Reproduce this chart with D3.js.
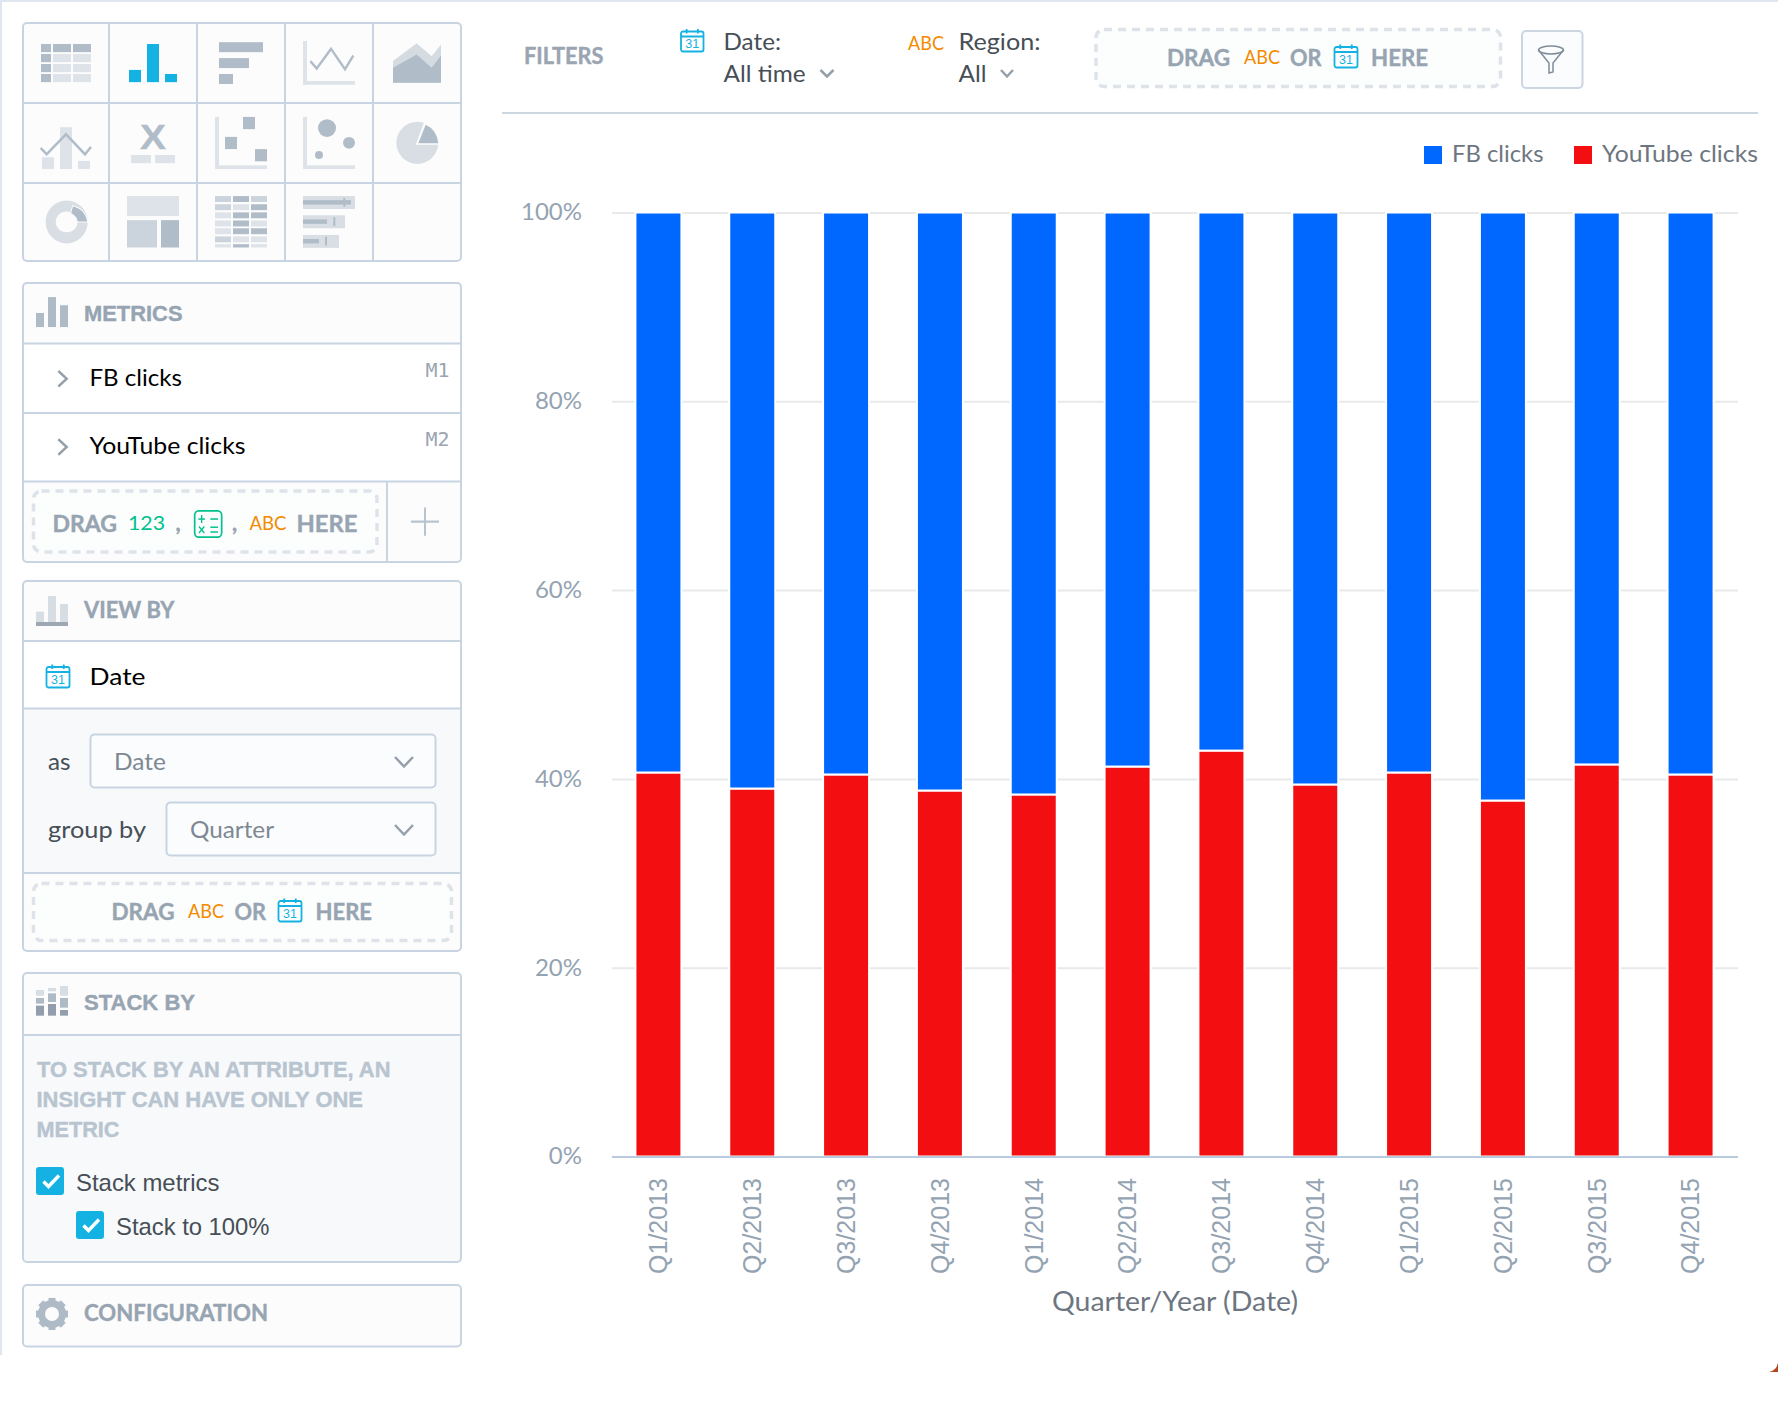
<!DOCTYPE html>
<html>
<head>
<meta charset="utf-8">
<title>FB vs YouTube clicks</title>
<script src="https://cdn.jsdelivr.net/npm/d3@7/dist/d3.min.js"></script>
<style>
  html, body { margin: 0; padding: 0; background: #fff; }
  svg { display: block; }
  text { font-family: Lato, sans-serif; }
</style>
</head>
<body>
<div id="chart"></div>
<script>
// values, share of clicks in % per quarter
const categories = ["Q1/2013","Q2/2013","Q3/2013","Q4/2013","Q1/2014","Q2/2014","Q3/2014","Q4/2014","Q1/2015","Q2/2015","Q3/2015","Q4/2015"];
const youtubeClicks = [40.68,38.98,40.47,38.77,38.35,41.31,43.0,39.41,40.68,37.71,41.53,40.47];
const fbClicks = [59.32,61.02,59.53,61.23,61.65,58.69,57.0,60.59,59.32,62.29,58.47,59.53];
const yTicks = [0,20,40,60,80,100];
const seriesNames = ["YouTube clicks","FB clicks"];
const legendNames = ["FB clicks","YouTube clicks"];
const seriesColors = {"FB clicks":"#0068ff","YouTube clicks":"#f30f11"};

const BLUE = "#14b2e2", ORANGE = "#f38b00", GREEN = "#00c18d";
const LINE = "#c8d4e1", DARK = "#b0bdc9", LIGHT = "#dde3e8", MID = "#cbd4dd";
const HEAD = "#97a4b1", BODY = "#464e56", SERIF_SANS = "Liberation Sans, Arial, sans-serif";

const svg = d3.select("#chart").append("svg")
    .attr("width", 1778).attr("height", 1402)
    .attr("viewBox", [0,0,1778,1402]);

// text helper, w stretches the text to the width measured in the picture
function label(parent, str, x, y, o = {}) {
    const t = parent.append("text")
        .attr("x", x).attr("y", y)
        .attr("font-size", o.size || 24)
        .attr("fill", o.fill || BODY)
        .text(str);
    if (o.weight) t.attr("font-weight", o.weight).attr("stroke", o.fill || BODY).attr("stroke-width", 0.4);
    if (o.family) t.style("font-family", o.family);
    if (o.w) t.attr("textLength", o.w).attr("lengthAdjust", "spacingAndGlyphs");
    return t;
}
function box(parent, x, y, w, h, fill) {
    return parent.append("rect").attr("x", x).attr("y", y).attr("width", w).attr("height", h).attr("fill", fill);
}
function hline(parent, x1, x2, y, color = LINE) {
    parent.append("line").attr("x1", x1).attr("x2", x2).attr("y1", y).attr("y2", y)
        .attr("stroke", color).attr("stroke-width", 2);
}
function poly(parent, pts, color, width) {
    return parent.append("path").attr("d", d3.line()(pts)).attr("fill", "none")
        .attr("stroke", color).attr("stroke-width", width);
}
function panel(parent, y1, y2) {
    box(parent, 23, y1, 438, y2 - y1, "#fcfcfd");
}
function panelBorder(parent, y1, y2) {
    parent.append("rect").attr("x", 23).attr("y", y1).attr("width", 438).attr("height", y2 - y1)
        .attr("rx", 4).attr("fill", "none").attr("stroke", LINE).attr("stroke-width", 2);
}
function dropzone(parent, x1, y1, x2, y2) {
    parent.append("rect").attr("x", x1).attr("y", y1).attr("width", x2 - x1).attr("height", y2 - y1)
        .attr("rx", 8).attr("fill", "#fcfdfd").attr("stroke", "#dde3e9")
        .attr("stroke-width", 3.5).attr("stroke-dasharray", "8 6");
}
function calIcon(parent, x, y, w, h) {
    const g = parent.append("g").attr("transform", `translate(${x},${y})`);
    g.append("rect").attr("x", 0).attr("y", 2).attr("width", w).attr("height", h - 2).attr("rx", 2)
        .attr("fill", "#fff").attr("stroke", BLUE).attr("stroke-width", 1.8);
    hline(g, 0, w, 7, BLUE);
    [0.25, 0.75].forEach(f => g.append("line").attr("x1", w * f).attr("x2", w * f).attr("y1", -0.5).attr("y2", 4)
        .attr("stroke", BLUE).attr("stroke-width", 1.8));
    label(g, "31", w / 2 - 7, h - 3.5, {size: 13, fill: BLUE, w: 14, family: SERIF_SANS});
}
function chevron(parent, x1, x2, y1, y2) {
    poly(parent, [[x1,y1],[(x1+x2)/2,y2],[x2,y1]], "#95a0ab", 2.5);
}
// group whose units are the ones of the 3x crops of the left column
function cropGroup() {
    return svg.append("g").attr("transform", `scale(${1/3},${1/2.703})`);
}

// page edges
box(svg, 0, 0, 1778, 2, "#dfe6ef");
box(svg, 0, 0, 2, 1355, "#dfe6ef");
svg.append("path").attr("d", "M1769,1372 Q1776,1371 1778,1363 L1778,1372 Z").attr("fill", "#b5451b");

// ---------- chart ----------
const y = d3.scaleLinear().domain([0,100]).range([1156.5,212.5]);
const x = d3.scaleBand().domain(categories).range([611.5,1737.5]).paddingInner(0.5098).paddingOuter(0.2549);

const stackRows = categories.map((c,i) => ({cat: c, "YouTube clicks": youtubeClicks[i], "FB clicks": fbClicks[i]}));
const series = d3.stack().keys(seriesNames)(stackRows);

const yAxis = svg.append("g").attr("transform", "translate(612,0)")
    .call(d3.axisLeft(y).tickValues(yTicks).tickFormat(d => d + "%").tickSize(-1126).tickPadding(30));
yAxis.select(".domain").remove();
yAxis.selectAll("line").attr("stroke", "#e8e9ea").attr("stroke-width", 2);
yAxis.selectAll("text").attr("font-size", 24).attr("fill", "#94a3b2").attr("dy", ".31em")
    .style("font-family", "Lato, sans-serif");

svg.append("g").selectAll("g")
    .data(series)
    .join("g")
    .attr("fill", d => seriesColors[d.key])
    .selectAll("rect")
    .data(d => d)
    .join("rect")
    .attr("x", d => x(d.data.cat))
    .attr("width", x.bandwidth())
    .attr("y", d => y(d[1]))
    .attr("height", d => y(d[0]) - y(d[1]))
    .attr("stroke", "#fff")
    .attr("stroke-width", 2);

const xAxis = svg.append("g").attr("transform", "translate(0,1157)")
    .call(d3.axisBottom(x).tickSize(0));
xAxis.select(".domain").attr("d", "M612,0H1738").attr("stroke", "#b9cade").attr("stroke-width", 2.2);
xAxis.selectAll("text")
    .attr("transform", "rotate(-90)")
    .attr("text-anchor", "end")
    .attr("x", -21).attr("y", 0).attr("dy", ".35em")
    .attr("font-size", 25)
    .attr("fill", "#94a3b2")
    .style("font-family", SERIF_SANS);

label(svg, "Quarter/Year (Date)", 1052, 1311, {size: 26, fill: "#6d7680", w: 246});

// legend
const legendX = {"FB clicks": [1424,1452,91.5], "YouTube clicks": [1574,1602,156]};
legendNames.forEach(n => {
    box(svg, legendX[n][0], 146, 18, 18, seriesColors[n]);
    label(svg, n, legendX[n][1], 161.5, {size: 24, fill: "#6d7680", w: legendX[n][2]});
});

// ---------- filter bar ----------
hline(svg, 502, 1758, 113, "#cdd7e2");
label(svg, "FILTERS", 524, 63.5, {size: 22, weight: 700, fill: "#9aa5b1", w: 79.5});
calIcon(svg, 681, 29.5, 22.5, 22);
label(svg, "Date:", 723.5, 50, {w: 57.5});
label(svg, "All time", 723.5, 82, {w: 82});
chevron(svg, 820.5, 833.5, 70, 76.5);
label(svg, "ABC", 908, 49.5, {size: 20, fill: ORANGE, w: 36});
label(svg, "Region:", 958.5, 50, {w: 82});
label(svg, "All", 958.5, 82, {w: 28});
chevron(svg, 1001, 1013, 70, 76.5);
dropzone(svg, 1096, 29.5, 1500.5, 86.5);
label(svg, "DRAG", 1167, 66, {size: 22, weight: 700, fill: HEAD, w: 63});
label(svg, "ABC", 1244, 63.5, {size: 20, fill: ORANGE, w: 36});
label(svg, "OR", 1290, 66, {size: 22, weight: 700, fill: HEAD, w: 31.5});
calIcon(svg, 1334.5, 45, 23, 22.5);
label(svg, "HERE", 1371, 66, {size: 22, weight: 700, fill: HEAD, w: 57});
svg.append("rect").attr("x", 1522).attr("y", 31).attr("width", 60.5).attr("height", 57).attr("rx", 4)
    .attr("fill", "#fbfcfd").attr("stroke", "#ccd6e1").attr("stroke-width", 2);
svg.append("ellipse").attr("cx", 1551).attr("cy", 50).attr("rx", 12.5).attr("ry", 4)
    .attr("fill", "none").attr("stroke", "#7f8c9a").attr("stroke-width", 1.5);
poly(svg, [[1538.5,50],[1549,63],[1549,73],[1553,72],[1553,63],[1563.5,50]], "#7f8c9a", 1.5);

// ---------- left column ----------
panel(svg, 23, 261);
panel(svg, 283, 562);
panel(svg, 581, 951);
panel(svg, 973, 1262);
panel(svg, 1285, 1346.5);

// icons of the insight types
const z = cropGroup();
[[123,30],[159,54],[219,54]].forEach(([cx,cw],ci) => {
    [119,146,173,200].forEach((ry,ri) => box(z, cx, ry, cw, 22, (ci === 0 || ri === 0) ? DARK : LIGHT));
});
[[387,189,36,33],[441,119,36,103],[495,200,36,22]].forEach(r => box(z, ...r, BLUE));
[[657,114,132,27],[657,157,90,27],[657,200,42,27]].forEach(r => box(z, ...r, DARK));
box(z, 909, 111, 12, 118, LIGHT); box(z, 909, 219, 156, 10, LIGHT);
poly(z, [[931,165],[950,185],[993,132],[1035,187],[1060,150]], DARK, 7);
z.append("path").attr("d", d3.line()([[1179,165],[1250,117],[1295,152],[1323,120],[1323,224],[1179,224]])).attr("fill", "#d5dce1");
z.append("path").attr("d", d3.line()([[1179,183],[1250,147],[1295,183],[1323,150],[1323,224],[1179,224]])).attr("fill", DARK);
[[126,425,36,32],[180,344,36,113],[234,435,36,22]].forEach(r => box(z, ...r, LIGHT));
poly(z, [[122,400],[140,417],[198,363],[255,417],[273,397]], DARK, 7);
label(svg, "X", 140, 148.7, {size: 35, weight: 700, fill: DARK, w: 26, family: SERIF_SANS});
box(z, 393, 419, 60, 22, LIGHT); box(z, 465, 419, 60, 22, LIGHT);
box(z, 645, 316, 12, 140, LIGHT); box(z, 645, 447, 156, 10, LIGHT);
[[729,316],[675,370],[765,403]].forEach(([a,b]) => box(z, a, b, 36, 33, DARK));
box(z, 909, 316, 12, 140, LIGHT); box(z, 909, 447, 156, 10, LIGHT);
[[981,346,27,24],[1047,386,18,16],[957,419,12,11]].forEach(([a,b,c,d]) =>
    z.append("ellipse").attr("cx", a).attr("cy", b).attr("rx", c).attr("ry", d).attr("fill", DARK));
z.append("ellipse").attr("cx", 1252).attr("cy", 386).attr("rx", 63).attr("ry", 57).attr("fill", "#d8dee3");
z.append("path").attr("d", "M1247,391 L1272,331 L1320,331 L1325,391 Z").attr("fill", "#fcfcfd");
z.append("path").attr("d", "M1255,387 L1277,337 Q1310,350 1315,387 Z").attr("fill", DARK);
z.append("ellipse").attr("cx", 200).attr("cy", 600).attr("rx", 48).attr("ry", 43).attr("fill", "none")
    .attr("stroke", "#d8dee3").attr("stroke-width", 30);
z.append("path").attr("d", "M218,556 Q258,565 263,600 L232,600 Q230,585 212,577 Z").attr("fill", DARK).attr("stroke", "#fcfcfd").attr("stroke-width", 3);
box(z, 381, 530, 156, 54, LIGHT); box(z, 381, 595, 90, 74, MID); box(z, 483, 595, 54, 74, DARK);
const heatShades = [[MID,DARK,MID],[MID,LIGHT,DARK],[LIGHT,DARK,DARK],[LIGHT,DARK,LIGHT],[LIGHT,DARK,DARK],[MID,LIGHT,LIGHT],[LIGHT,DARK,LIGHT]];
heatShades.forEach((row,ri) => row.forEach((c,ci) =>
    box(z, 645 + ci * 54, [530,552,574,596,617,639,660][ri], 48, ri === 6 ? 9 : 16, c)));
[[530,156,144,1030],[582,126,72,1000],[635,108,48,975]].forEach(([by,bw,dw,tx]) => {
    box(z, 909, by, bw, 35, "#d8dee3");
    box(z, 909, by + 11, dw, 12, DARK);
    box(z, tx, by + 5, 6, 24, DARK);
});
[109,197,285,373].forEach(vx => svg.append("line").attr("x1", vx).attr("x2", vx).attr("y1", 23).attr("y2", 261)
    .attr("stroke", LINE).attr("stroke-width", 2));
hline(svg, 23, 461, 103); hline(svg, 23, 461, 183);
panelBorder(svg, 23, 261);

// metrics
[[108,846,24,38],[144,803,24,81],[180,825,24,59]].forEach(r => box(z, ...r, "#aebbc7"));
label(svg, "METRICS", 84, 321, {size: 22, weight: 700, fill: HEAD, w: 98.5, family: SERIF_SANS});
box(svg, 24, 344, 436, 138, "#fff");
hline(svg, 23, 461, 343.5); hline(svg, 23, 461, 413); hline(svg, 23, 461, 481.5);
label(svg, "FB clicks", 89.5, 386, {fill: "#000", w: 92.5});
label(svg, "YouTube clicks", 89.5, 453.5, {fill: "#000", w: 156});
label(svg, "M1", 425.5, 377, {size: 19, fill: "#9aa5b1", w: 24, family: "DejaVu Sans Mono, monospace"});
label(svg, "M2", 425.5, 445.5, {size: 19, fill: "#9aa5b1", w: 24, family: "DejaVu Sans Mono, monospace"});
dropzone(svg, 33.5, 491, 377, 552);
label(svg, "DRAG", 52.5, 531.5, {size: 22, weight: 700, fill: HEAD, w: 64.5});
label(svg, "123", 128, 530, {size: 20, fill: GREEN, w: 37});
label(svg, ",", 175.5, 531, {size: 22, fill: HEAD, weight: 700});
label(svg, ",", 232, 531, {size: 22, fill: HEAD, weight: 700});
label(svg, "ABC", 249.5, 530, {size: 20, fill: ORANGE, w: 37});
label(svg, "HERE", 296.5, 531.5, {size: 22, weight: 700, fill: HEAD, w: 61});
svg.append("line").attr("x1", 387).attr("x2", 387).attr("y1", 481.5).attr("y2", 562).attr("stroke", LINE).attr("stroke-width", 2);

// row chevrons, calculated metric icon and plus sit on top of the row fills
const z2 = cropGroup();
poly(z2, [[175,1003],[200,1024],[175,1045]], "#959fa9", 7);
poly(z2, [[175,1187],[200,1208],[175,1229]], "#959fa9", 7);
z2.append("rect").attr("x", 584).attr("y", 1381).attr("width", 81).attr("height", 71).attr("rx", 12)
    .attr("fill", "none").attr("stroke", GREEN).attr("stroke-width", 5);
poly(z2, [[595,1403],[615,1403]], GREEN, 4); poly(z2, [[605,1392],[605,1414]], GREEN, 4);
poly(z2, [[631,1403],[654,1403]], GREEN, 4);
poly(z2, [[597,1423],[613,1441]], GREEN, 4); poly(z2, [[613,1423],[597,1441]], GREEN, 4);
poly(z2, [[631,1425],[654,1425]], GREEN, 4); poly(z2, [[631,1438],[654,1438]], GREEN, 4);
poly(z2, [[1233,1410],[1317,1410]], "#b8c3cd", 6); poly(z2, [[1275,1372],[1275,1448]], "#b8c3cd", 6);
panelBorder(svg, 283, 562);

// view by
const vz = svg.append("g").attr("transform", "translate(0,570) scale(0.3333)");
[[108,125,24,35],[144,78,24,82],[180,102,24,58]].forEach(r => box(vz, ...r, "#d6dde3"));
box(vz, 108, 156, 96, 12, "#9da8b3");
label(svg, "VIEW BY", 84, 618, {size: 22, weight: 700, fill: HEAD, w: 90.5});
box(svg, 24, 642, 436, 66, "#fff");
box(svg, 24, 709, 436, 163, "#f8f9fb");
hline(svg, 23, 461, 641); hline(svg, 23, 461, 708.5); hline(svg, 23, 461, 873);
calIcon(svg, 46.5, 665, 23, 22.5);
label(svg, "Date", 89.5, 685, {fill: "#000", w: 56});
label(svg, "as", 48, 770, {w: 22.5});
label(svg, "group by", 48, 837.5, {w: 98});
[[90.5,734.5,345],[166.5,802.5,269]].forEach(([sx,sy,sw]) => {
    svg.append("rect").attr("x", sx).attr("y", sy).attr("width", sw).attr("height", 53).attr("rx", 4)
        .attr("fill", "#fbfcfd").attr("stroke", LINE).attr("stroke-width", 2);
    chevron(svg, 395, 413, sy + 22.5, sy + 32);
});
label(svg, "Date", 114, 770, {fill: "#7d8893", w: 52});
label(svg, "Quarter", 190, 837.5, {fill: "#7d8893", w: 84});
dropzone(svg, 33.5, 883.5, 451.5, 940.5);
label(svg, "DRAG", 111.5, 920, {size: 22, weight: 700, fill: HEAD, w: 63});
label(svg, "ABC", 188, 917.5, {size: 20, fill: ORANGE, w: 36});
label(svg, "OR", 234.5, 920, {size: 22, weight: 700, fill: HEAD, w: 31.5});
calIcon(svg, 278.5, 899, 23, 22.5);
label(svg, "HERE", 315.5, 920, {size: 22, weight: 700, fill: HEAD, w: 56.5});
panelBorder(svg, 581, 951);

// stack by
const sz = svg.append("g").attr("transform", "translate(0,959) scale(0.3333)");
[[108,[[93,110],[117,134],[140,170]]],[144,[[87,97],[103,129],[135,170]]],[180,[[81,110],[117,146],[153,170]]]].forEach(([cx,parts]) => {
    parts.forEach(([a,b],i) => box(sz, cx, a, 24, b - a, ["#d6dde3","#aebbc7","#929eab"][i]));
});
label(svg, "STACK BY", 84, 1009.5, {size: 22, weight: 700, fill: HEAD, w: 111, family: SERIF_SANS});
box(svg, 24, 1036, 436, 225, "#f7f9fb");
hline(svg, 23, 461, 1035);
const MSG = {size: 22, weight: 700, fill: "#b8c4cf", family: SERIF_SANS};
label(svg, "TO STACK BY AN ATTRIBUTE, AN", 37, 1076.5, {...MSG, w: 353.5});
label(svg, "INSIGHT CAN HAVE ONLY ONE", 36.5, 1106.5, {...MSG, w: 326.5});
label(svg, "METRIC", 36.5, 1136.5, {...MSG, w: 83});
[[36,1167,76,1190.5,"Stack metrics",143.5],[76,1211,116,1234.5,"Stack to 100%",153.5]].forEach(([cx,cy,tx,ty,str,tw]) => {
    svg.append("rect").attr("x", cx).attr("y", cy).attr("width", 28).attr("height", 28).attr("rx", 3).attr("fill", BLUE);
    poly(svg, [[cx + 7.5,cy + 14.5],[cx + 12.5,cy + 19.5],[cx + 23,cy + 8.5]], "#fff", 3.4);
    label(svg, str, tx, ty, {size: 24, w: tw, family: SERIF_SANS});
});
panelBorder(svg, 973, 1262);

// configuration
const gear = svg.append("g").attr("transform", "translate(52,1314)");
gear.append("circle").attr("r", 10.5).attr("fill", "none").attr("stroke", "#aebbc7").attr("stroke-width", 7);
d3.range(8).forEach(i => box(gear, -3.5, -16, 7, 7, "#aebbc7").attr("transform", `rotate(${i * 45})`));
label(svg, "CONFIGURATION", 84, 1321, {size: 22, weight: 700, fill: HEAD, w: 184});
panelBorder(svg, 1285, 1346.5);
</script>
</body>
</html>
